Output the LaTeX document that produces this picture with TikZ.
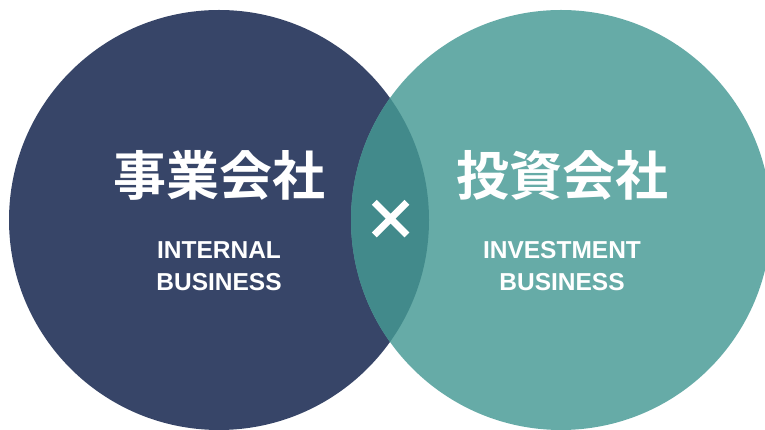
\documentclass[tikz,border=0pt]{standalone}
\usepackage{fontspec}
\usepackage{xcolor}
\usepackage{tikz}
\setmainfont{Liberation Sans}
\newfontfamily\cjk{Noto Sans CJK JP}[BoldFont={Noto Sans CJK JP Bold}]
\newfontfamily\crossfont{Noto Sans CJK JP Bold}[FakeBold=2.5]
\definecolor{navy}{HTML}{374568}
\definecolor{teal}{HTML}{66ABA7}
\definecolor{lens}{HTML}{428A8B}
\tikzset{
  bubble/.style = {circle, inner sep=0pt, minimum size=420pt},% grand cercle
  title/.style = {white, font=\cjk\bfseries\fontsize{53}{60}\selectfont},% nom japonais
  sub/.style = {white, align=center, font=\bfseries\fontsize{24.5}{32}\selectfont}% sous-titre anglais
}
\begin{document}
\begin{tikzpicture}[x=1pt,y=1pt]
\useasboundingbox (0,0) rectangle (765,430);
\coordinate (lc) at (219,210);
\coordinate (rc) at (561,210);
\node [bubble, fill=navy] (inner) at (lc) {};
\node [bubble, fill=teal] (invest) at (rc) {};
\begin{scope}
  \clip (lc) circle (210pt);
  \fill [lens] (rc) circle (210pt);
\end{scope}
\node [title] (jinner) at (219,255) {事業会社};
\node [title] (jinvest) at (562,255) {投資会社};
\node [sub] (einner) at (219,164) {INTERNAL\\BUSINESS};
\node [sub] (einvest) at (562,164) {INVESTMENT\\BUSINESS};
\node [white, font=\crossfont\fontsize{54}{54}\selectfont] (cross) at (390.5,210) {×};
\end{tikzpicture}
\end{document}
